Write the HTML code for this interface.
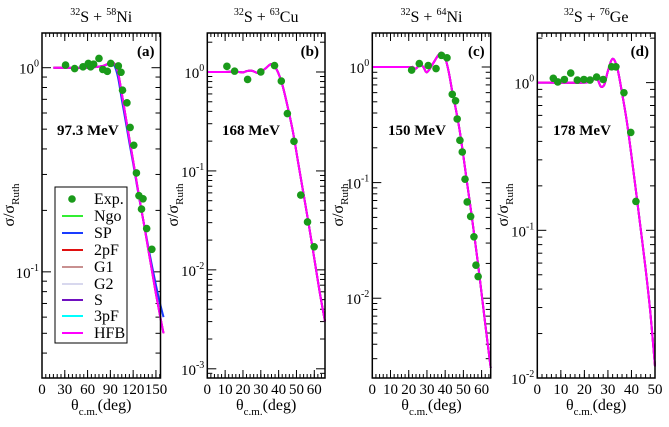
<!DOCTYPE html>
<html><head><meta charset="utf-8"><style>
body{margin:0;background:#fff;font-family:'Liberation Serif','Times New Roman',Times,serif;}
svg text, svg tspan{font-family:'Liberation Serif','Times New Roman',Times,serif !important;}
</style></head><body>
<svg id="chart" width="669" height="422" viewBox="0 0 669 422" xmlns="http://www.w3.org/2000/svg"></svg>
<script>
// ---- data ----
const aExpDeg=[31,43,54,61,64,68,75,80,86,90.5,100.5,104,106,111.8,116,120.8,124.3,127.6,131,133,137.8,144.6];
const aExpVal=[1.03,0.99,1.01,1.05,1.01,1.04,1.11,0.98,0.96,1.05,1.02,0.95,0.776,0.673,0.51,0.417,0.305,0.236,0.203,0.228,0.163,0.129];
const aCurveDeg=[15,60,80,90,95,100,105,110,115,120,125,130,135,140,145,150,155,160];
const aHFB=[1.0,1.0,1.02,1.06,1.05,0.95,0.75,0.58,0.45,0.35,0.27,0.21,0.165,0.128,0.1,0.078,0.062,0.05];
const aSP=[1.0,1.0,1.02,1.05,1.03,0.9,0.7,0.55,0.43,0.34,0.265,0.208,0.166,0.132,0.106,0.086,0.071,0.06];
const bExpDeg=[11,15.3,22.6,30,37.7,41.5,44.9,48.6,52.4,56.2,59.9];
const bExpVal=[1.14,1.02,0.84,1.0,1.16,0.81,0.38,0.199,0.057,0.0305,0.0171];
const bCurveDeg=[0,10,15,20,22,25,28,30,33,36,39,42,45,48,51,54,57,60,63,66];
const bHFB=[1.0,1.0,1.01,0.99,1.02,1.03,0.98,1.0,1.1,1.2,1.05,0.75,0.45,0.25,0.12,0.058,0.028,0.013,0.006,0.003];
const cExpDeg=[21.6,25.8,30.7,35,38,41,43.9,45.7,46.6,48.1,49.4,50.9,52.1,54,55.8,56.9,58.1];
const cExpVal=[0.94,1.07,1.03,0.97,1.26,1.2,0.58,0.51,0.355,0.232,0.184,0.107,0.068,0.051,0.034,0.0193,0.0154];
const cCurveDeg=[0,20,22,24,26,28,30,33,36,38,40,42,44,46,48,50,52,54,56,58,60,62,65];
const cHFB=[1.0,1.0,1.0,0.97,1.05,1.0,0.9,1.05,1.25,1.33,1.2,0.9,0.6,0.42,0.28,0.17,0.1,0.06,0.035,0.02,0.011,0.006,0.0025];
const dExpDeg=[6.8,8.7,11.5,14.2,17,19.8,22.4,25.2,28,31.6,33.4,36.8,39.7,41.9];
const dExpVal=[1.07,1.01,1.05,1.16,1.04,1.05,1.04,1.09,1.05,1.28,1.28,0.854,0.46,0.157];
const dCurveDeg=[0,20,22,24,25,26,27,28.5,30,32,34,36,38,40,42,44,46,48,50];
const dHFB=[1.0,1.0,1.02,1.05,1.07,1.02,0.94,0.97,1.2,1.45,1.25,0.85,0.55,0.32,0.18,0.1,0.055,0.028,0.012];
const aXTicks=[0,30,60,90,120,150];
const bXTicks=[0,10,20,30,40,50,60];
const dXTicks=[0,10,20,30,40,50];

const NS="http://www.w3.org/2000/svg";
const svg=document.getElementById('chart');
function mk(tag,attrs,parent){const e=document.createElementNS(NS,tag);for(const k in attrs)e.setAttribute(k,attrs[k]);if(tag==='text')e.style.fontFamily="'Liberation Serif','Times New Roman',Times,serif";(parent||svg).appendChild(e);return e;}

function smoothPath(pts){
  let d='M'+pts[0][0]+','+pts[0][1];
  for(let i=0;i<pts.length-1;i++){
    const p0=pts[i-1]||pts[i],p1=pts[i],p2=pts[i+1],p3=pts[i+2]||p2;
    const c1=[p1[0]+(p2[0]-p0[0])/6,p1[1]+(p2[1]-p0[1])/6];
    const c2=[p2[0]-(p3[0]-p1[0])/6,p2[1]-(p3[1]-p1[1])/6];
    d+=' C'+c1[0]+','+c1[1]+' '+c2[0]+','+c2[1]+' '+p2[0]+','+p2[1];
  }
  return d;
}

function panel(p){
  const g=mk('g',{});
  
  
  const L=p.L,R=p.R,T=33,B=378;
  const X=d=>L+(d-p.x0)/(p.x1-p.x0)*(R-L);
  const Y=v=>B-(Math.log10(v)-p.lmin)/(p.lmax-p.lmin)*(B-T);
  const tk=mk('g',{stroke:'#000','stroke-width':1},g);
  
  
  for(let d=p.x0;d<=p.x1+1e-6;d+=p.minor){const x=X(d);mk('line',{x1:x,x2:x,y1:B,y2:B-4},tk);mk('line',{x1:x,x2:x,y1:T,y2:T+4},tk);}
  for(const d of p.xt){const x=X(d);mk('line',{x1:x,x2:x,y1:B,y2:B-8},tk);mk('line',{x1:x,x2:x,y1:T,y2:T+8},tk);
    const t=mk('text',{x:x,y:B+16,'text-anchor':'middle','font-size':15},g);t.textContent=d;
    
    }
  for(let e=Math.floor(p.lmin);e<=Math.ceil(p.lmax);e++){
    for(let m=1;m<10;m++){const v=m*Math.pow(10,e);const lv=Math.log10(v);if(lv<p.lmin||lv>p.lmax)continue;const y=Y(v);const w=m==1?9:5;
      mk('line',{x1:L,x2:L+w,y1:y,y2:y},tk);mk('line',{x1:R,x2:R-w,y1:y,y2:y},tk);
      if(m==1){const t=mk('text',{x:L-3,y:y+6,'text-anchor':'end','font-size':15},g);
        
        
        t.innerHTML='10<tspan dy="-7" font-size="10">'+e+'</tspan>';}}
  }
  const line=(arrD,arrV,col,w,name)=>{const pl=mk('path',{fill:'none',stroke:col,'stroke-width':w,d:smoothPath(arrD.map((d,i)=>[X(d),Y(arrV[i])]))},g);
    
    };
  line(p.cd,p.hfb,'#00ffff',2,'curve-3pf');
  if(p.sp)line(p.cd,p.sp,'#1a3cff',2,'curve-sp');
  else line(p.cd,p.hfb,'#1a3cff',2,'curve-sp');
  line(p.cd,p.hfb,'#ff0000',2,'curve-2pf');
  line(p.cd,p.hfb,'#ff00ff',2,'curve-hfb');
  for(let i=0;i<p.ed.length;i++){const c=mk('circle',{cx:X(p.ed[i]),cy:Y(p.ev[i]),r:3.8,fill:'#1a9a1a'},g);
    
    }
  mk('rect',{x:L,y:T,width:R-L,height:B-T,fill:'none',stroke:'#000','stroke-width':1.5},g);
  const tt=mk('text',{x:(L+R)/2,y:22,'text-anchor':'middle','font-size':16},g);
  
  
  tt.innerHTML='<tspan dy="-7" font-size="10">32</tspan><tspan dy="7">S + </tspan><tspan dy="-7" font-size="10">'+p.A+'</tspan><tspan dy="7">'+p.el+'</tspan>';
  const lb=mk('text',{x:R-6,y:56,'text-anchor':'end','font-size':15,'font-weight':'bold'},g);lb.textContent='('+p.id+')';
  
  
  const en=mk('text',{x:p.ex,y:135,'font-size':15,'font-weight':'bold'},g);en.textContent=p.E;
  
  
  const yt=mk('text',{transform:'translate('+(p.yl)+',205) rotate(-90)','text-anchor':'middle','font-size':16},g);
  
  
  yt.innerHTML='σ/σ<tspan dy="5" font-size="11">Ruth</tspan>';
  const xt=mk('text',{x:(L+R)/2,y:410,'text-anchor':'middle','font-size':16},g);
  
  
  xt.innerHTML='θ<tspan dy="5" font-size="11">c.m.</tspan><tspan dy="-5">(deg)</tspan>';
}
panel({id:'a',L:42,R:160.5,x0:0,x1:156,minor:5,xt:aXTicks,lmin:-1.52,lmax:0.17,cd:aCurveDeg,hfb:aHFB,sp:aSP,ed:aExpDeg,ev:aExpVal,A:'58',el:'Ni',E:'97.3 MeV',ex:57,yl:14});
panel({id:'b',L:207.3,R:325,x0:0,x1:66,minor:2,xt:bXTicks,lmin:-3.093,lmax:0.394,cd:bCurveDeg,hfb:bHFB,ed:bExpDeg,ev:bExpVal,A:'63',el:'Cu',E:'168 MeV',ex:222,yl:178});
panel({id:'c',L:372.3,R:490.7,x0:0,x1:65,minor:2,xt:bXTicks,lmin:-2.69,lmax:0.294,cd:cCurveDeg,hfb:cHFB,ed:cExpDeg,ev:cExpVal,A:'64',el:'Ni',E:'150 MeV',ex:388,yl:343});
panel({id:'d',L:537.3,R:655,x0:0,x1:50,minor:2,xt:dXTicks,lmin:-2,lmax:0.336,cd:dCurveDeg,hfb:dHFB,ed:dExpDeg,ev:dExpVal,A:'76',el:'Ge',E:'178 MeV',ex:553,yl:508});

const lg=mk('g',{});


mk('rect',{x:55,y:187,width:72,height:156,fill:'#fff',stroke:'#000','stroke-width':1},lg);
const legNames=['Exp.','Ngo','SP','2pF','G1','G2','S','3pF','HFB'];
const legCols=['#1a9a1a','#33ee33','#1a3cff','#e01010','#c89090','#d8d8ee','#7010c0','#00ffff','#ff00ff'];
const legY=[199,216,233,250,267,284,300,316,333];
legNames.forEach((n,i)=>{
  const e=mk('g',{},lg);
  
  
  if(i==0)mk('circle',{cx:72,cy:legY[i],r:3.8,fill:legCols[i]},e);
  else mk('line',{x1:62,x2:83,y1:legY[i],y2:legY[i],stroke:legCols[i],'stroke-width':2},e);
  const t=mk('text',{x:94,y:legY[i]+5,'font-size':16},e);t.textContent=n;
});
</script>
</body></html>
